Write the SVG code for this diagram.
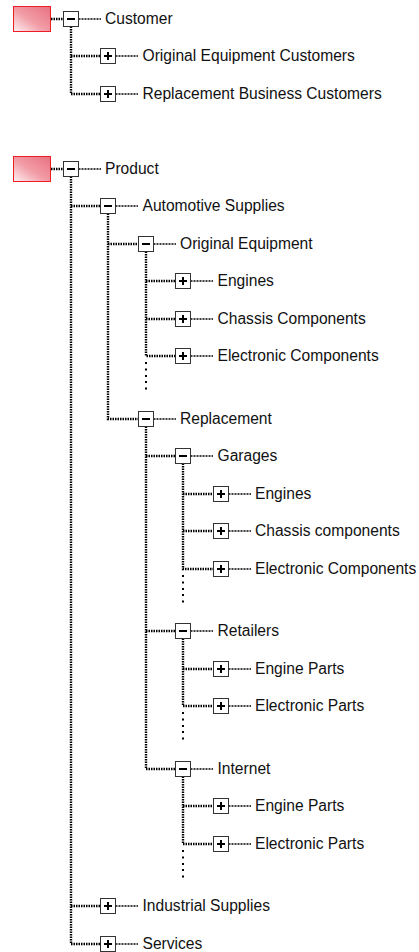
<svg xmlns="http://www.w3.org/2000/svg" xmlns:xlink="http://www.w3.org/1999/xlink" width="419" height="952" viewBox="0 0 419 952">
<style>
.t{font-family:"Liberation Sans",Arial,sans-serif;font-size:15.6px;fill:#111}
.c{fill:none;stroke:#000;stroke-width:2.4;stroke-dasharray:1.5 1}
.d{fill:none;stroke:#000;stroke-width:1.5;stroke-dasharray:2 1}
.root{fill:url(#rg);stroke:#ee1c24;stroke-width:1}
.dot{fill:#000}
</style>
<defs>
<linearGradient id="rg" x1="0" y1="1" x2="1" y2="0">
<stop offset="0" stop-color="#fdf1f3"/>
<stop offset="0.45" stop-color="#f29ea8"/>
<stop offset="1" stop-color="#e8707e"/>
</linearGradient>
<g id="minus"><rect x="-7.5" y="-7.5" width="15" height="15" fill="#fff" stroke="#333"/><rect x="-4" y="-1" width="8" height="2" fill="#000"/></g>
<g id="plus"><rect x="-7.5" y="-7.5" width="15" height="15" fill="#fff" stroke="#333"/><rect x="-4" y="-1" width="8" height="2" fill="#000"/><rect x="-1" y="-4" width="2" height="8" fill="#000"/></g>
</defs>

<g id="connectors">
<path class="c" d="M51 19H63.5M51 169H63.5"/>
<path class="c" d="M71 26.5V94H100.5M71 56H100.5"/>
<path class="c" d="M71 176.5V944H100.5M71 206H100.5M71 906H100.5"/>
<path class="c" d="M108 213.5V419H138.5M108 244H138.5"/>
<path class="c" d="M146 251.5V356H175.5M146 281H175.5M146 319H175.5"/>
<path class="c" d="M146 426.5V769H175.5M146 456H175.5M146 631H175.5"/>
<path class="c" d="M183 463.5V569H213.5M183 494H213.5M183 531H213.5"/>
<path class="c" d="M183 638.5V706H213.5M183 669H213.5"/>
<path class="c" d="M183 776.5V844H213.5M183 806H213.5"/>
<path class="d" d="M78.5 19H101M78.5 169H101
M115.5 56H138M115.5 94H138M115.5 206H138M115.5 906H138M115.5 944H138
M153.5 244H176M153.5 419H176
M190.5 281H213M190.5 319H213M190.5 356H213M190.5 456H213M190.5 631H213M190.5 769H213
M228.5 494H251M228.5 531H251M228.5 569H251M228.5 669H251M228.5 706H251M228.5 806H251M228.5 844H251"/>
<g class="dot">
<rect x="145" y="362" width="2" height="2"/><rect x="145" y="368.5" width="2" height="2"/><rect x="145" y="375" width="2" height="2"/><rect x="145" y="381" width="2" height="2"/><rect x="145" y="387.5" width="2" height="2"/>
<rect x="182" y="575" width="2" height="2"/><rect x="182" y="581.5" width="2" height="2"/><rect x="182" y="588" width="2" height="2"/><rect x="182" y="594" width="2" height="2"/><rect x="182" y="600.5" width="2" height="2"/>
<rect x="182" y="712" width="2" height="2"/><rect x="182" y="718.5" width="2" height="2"/><rect x="182" y="725" width="2" height="2"/><rect x="182" y="731" width="2" height="2"/><rect x="182" y="737.5" width="2" height="2"/>
<rect x="182" y="850" width="2" height="2"/><rect x="182" y="856.5" width="2" height="2"/><rect x="182" y="863" width="2" height="2"/><rect x="182" y="869" width="2" height="2"/><rect x="182" y="875.5" width="2" height="2"/>
</g>
</g>

<g id="root-customer"><rect class="root" x="13.5" y="6.5" width="37" height="25"/></g>
<g id="customer"><use xlink:href="#minus" x="71" y="19"/><text class="t" x="105" y="24">Customer</text></g>
<g id="oe-customers"><use xlink:href="#plus" x="108" y="56"/><text class="t" x="142.5" y="61">Original Equipment Customers</text></g>
<g id="repl-customers"><use xlink:href="#plus" x="108" y="94"/><text class="t" x="142.5" y="99">Replacement Business Customers</text></g>

<g id="root-product"><rect class="root" x="13.5" y="156.5" width="37" height="25"/></g>
<g id="product"><use xlink:href="#minus" x="71" y="169"/><text class="t" x="105" y="174">Product</text></g>
<g id="automotive"><use xlink:href="#minus" x="108" y="206"/><text class="t" x="142.5" y="211">Automotive Supplies</text></g>
<g id="original-equipment"><use xlink:href="#minus" x="146" y="244"/><text class="t" x="180" y="249">Original Equipment</text></g>
<g id="oe-engines"><use xlink:href="#plus" x="183" y="281"/><text class="t" x="217.5" y="286">Engines</text></g>
<g id="oe-chassis"><use xlink:href="#plus" x="183" y="319"/><text class="t" x="217.5" y="324">Chassis Components</text></g>
<g id="oe-electronic"><use xlink:href="#plus" x="183" y="356"/><text class="t" x="217.5" y="361">Electronic Components</text></g>
<g id="replacement"><use xlink:href="#minus" x="146" y="419"/><text class="t" x="180" y="424">Replacement</text></g>
<g id="garages"><use xlink:href="#minus" x="183" y="456"/><text class="t" x="217.5" y="461">Garages</text></g>
<g id="g-engines"><use xlink:href="#plus" x="221" y="494"/><text class="t" x="255" y="499">Engines</text></g>
<g id="g-chassis"><use xlink:href="#plus" x="221" y="531"/><text class="t" x="255" y="536">Chassis components</text></g>
<g id="g-electronic"><use xlink:href="#plus" x="221" y="569"/><text class="t" x="255" y="574">Electronic Components</text></g>
<g id="retailers"><use xlink:href="#minus" x="183" y="631"/><text class="t" x="217.5" y="636">Retailers</text></g>
<g id="r-engine-parts"><use xlink:href="#plus" x="221" y="669"/><text class="t" x="255" y="674">Engine Parts</text></g>
<g id="r-electronic-parts"><use xlink:href="#plus" x="221" y="706"/><text class="t" x="255" y="711">Electronic Parts</text></g>
<g id="internet"><use xlink:href="#minus" x="183" y="769"/><text class="t" x="217.5" y="774">Internet</text></g>
<g id="i-engine-parts"><use xlink:href="#plus" x="221" y="806"/><text class="t" x="255" y="811">Engine Parts</text></g>
<g id="i-electronic-parts"><use xlink:href="#plus" x="221" y="844"/><text class="t" x="255" y="849">Electronic Parts</text></g>
<g id="industrial"><use xlink:href="#plus" x="108" y="906"/><text class="t" x="142.5" y="911">Industrial Supplies</text></g>
<g id="services"><use xlink:href="#plus" x="108" y="944"/><text class="t" x="142.5" y="949">Services</text></g>
</svg>
